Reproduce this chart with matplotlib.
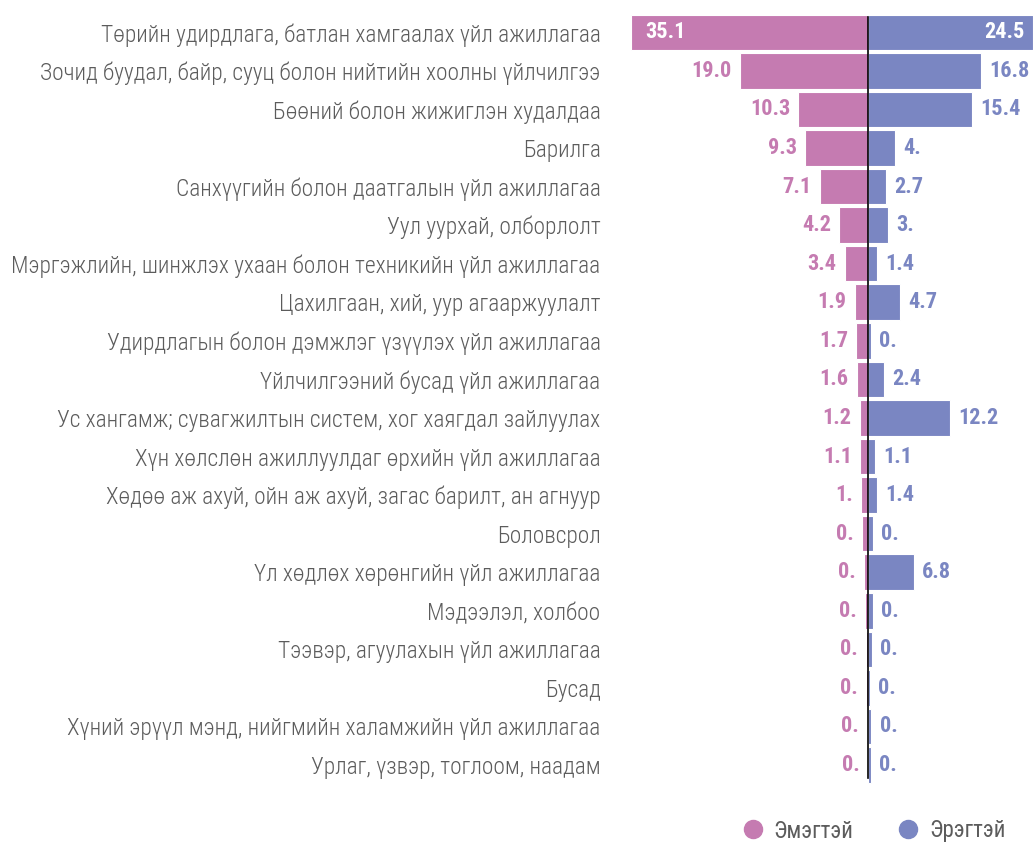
import matplotlib
matplotlib.use("Agg")
import matplotlib.pyplot as plt
from matplotlib import font_manager
from matplotlib.lines import Line2D

categories = [
    "Төрийн удирдлага, батлан хамгаалах үйл ажиллагаа",
    "Зочид буудал, байр, сууц болон нийтийн хоолны үйлчилгээ",
    "Бөөний болон жижиглэн худалдаа",
    "Барилга",
    "Санхүүгийн болон даатгалын үйл ажиллагаа",
    "Уул уурхай, олборлолт",
    "Мэргэжлийн, шинжлэх ухаан болон техникийн үйл ажиллагаа",
    "Цахилгаан, хий, уур агааржуулалт",
    "Удирдлагын болон дэмжлэг үзүүлэх үйл ажиллагаа",
    "Үйлчилгээний бусад үйл ажиллагаа",
    "Ус хангамж; сувагжилтын систем, хог хаягдал зайлуулах",
    "Хүн хөлслөн ажиллуулдаг өрхийн үйл ажиллагаа",
    "Хөдөө аж ахуй, ойн аж ахуй, загас барилт, ан агнуур",
    "Боловсрол",
    "Үл хөдлөх хөрөнгийн үйл ажиллагаа",
    "Мэдээлэл, холбоо",
    "Тээвэр, агуулахын үйл ажиллагаа",
    "Бусад",
    "Хүний эрүүл мэнд, нийгмийн халамжийн үйл ажиллагаа",
    "Урлаг, үзвэр, тоглоом, наадам",
]
women = [35.1, 19.0, 10.3, 9.3, 7.1, 4.2, 3.4, 1.9, 1.7, 1.6,
         1.2, 1.1, 1.0, 0.8, 0.6, 0.4, 0.3, 0.3, 0.1, 0.0]
men = [24.5, 16.8, 15.4, 4.0, 2.7, 3.0, 1.4, 4.7, 0.4, 2.4,
       12.2, 1.1, 1.4, 0.7, 6.8, 0.7, 0.6, 0.3, 0.5, 0.4]
# labels as printed in the source
women_labels = ["35.1", "19.0", "10.3", "9.3", "7.1", "4.2", "3.4", "1.9", "1.7", "1.6",
                "1.2", "1.1", "1.", "0.", "0.", "0.", "0.", "0.", "0.", "0."]
men_labels = ["24.5", "16.8", "15.4", "4.", "2.7", "3.", "1.4", "4.7", "0.", "2.4",
              "12.2", "1.1", "1.4", "0.", "6.8", "0.", "0.", "0.", "0.", "0."]
legend_names = ["Эмэгтэй", "Эрэгтэй"]

PINK = "#c57bb1"
BLUE = "#7a86c2"
GREY = "#5c5c5c"

# pick a condensed font if one is around
names = {f.name for f in font_manager.fontManager.ttflist}
font = "Roboto"
for cand in ["Roboto Condensed", "Liberation Sans Narrow", "Roboto"]:
    if cand in names:
        font = cand
        break
plt.rcParams["font.family"] = [font, "DejaVu Sans"]

fig = plt.figure(figsize=(10.33, 8.43), dpi=100)
ax = fig.add_axes([0.611, 0.0696, 0.389, 0.915])

y = list(range(len(categories)))
ax.barh(y, [-v for v in women], height=0.92, color=PINK, edgecolor="white", linewidth=0.8)
ax.barh(y, men, height=0.92, color=BLUE, edgecolor="white", linewidth=0.8)
ax.axvline(0, color="black", linewidth=1.2, ymin=0.008, ymax=0.995)

ax.set_xlim(-35.1, 24.5)
ax.set_ylim(len(categories) - 0.5, -0.5)

# value labels
for i in y:
    if women[i] > 30:
        ax.annotate(women_labels[i], (-women[i], i), xytext=(10, 0), textcoords="offset points",
                    ha="left", va="center", color="white", fontsize=16, fontweight="bold")
    else:
        ax.annotate(women_labels[i], (-women[i], i), xytext=(-6, 0), textcoords="offset points",
                    ha="right", va="center", color=PINK, fontsize=16, fontweight="bold")
    if men[i] > 22:
        ax.annotate(men_labels[i], (men[i], i), xytext=(-6, 0), textcoords="offset points",
                    ha="right", va="center", color="white", fontsize=16, fontweight="bold")
    else:
        ax.annotate(men_labels[i], (men[i], i), xytext=(6, 0), textcoords="offset points",
                    ha="left", va="center", color=BLUE, fontsize=16, fontweight="bold")

ax.set_yticks(y)
ax.set_yticklabels(categories, fontsize=16.8, color=GREY, fontweight="light")
ax.tick_params(axis="y", length=0, pad=22)
ax.set_xticks([])
for s in ax.spines.values():
    s.set_visible(False)

handles = [Line2D([], [], marker="o", linestyle="none", markersize=13, color=c) for c in (PINK, BLUE)]
fig.legend(handles, legend_names, loc="center", bbox_to_anchor=(0.84, 1 - 831 / 843),
           ncol=2, frameon=False, fontsize=16.5, handletextpad=-0.1, columnspacing=1.4,
           labelcolor=GREY)

fig.savefig("out.png", dpi=100)
